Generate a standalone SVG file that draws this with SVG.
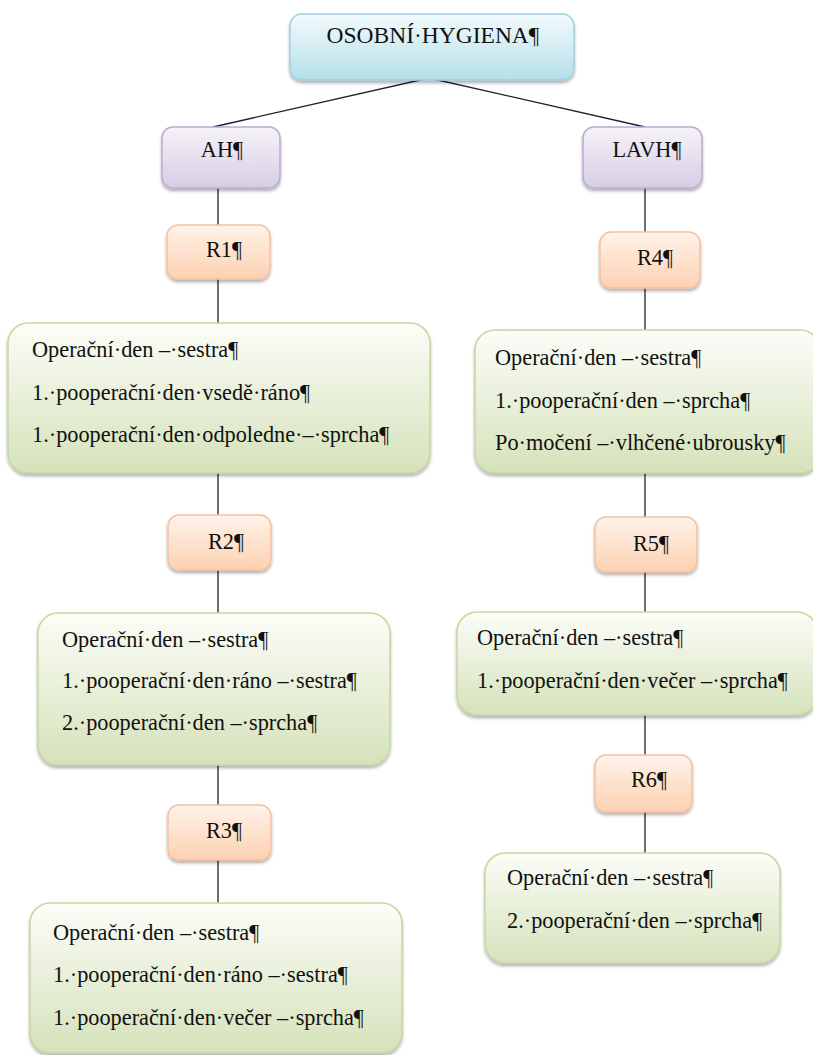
<svg xmlns="http://www.w3.org/2000/svg" width="813" height="1055" viewBox="0 0 813 1055">
  <style>
    .lbl { font-family: 'Liberation Serif', 'Times New Roman', 'DejaVu Serif', serif; font-size: 22.3px; fill: #111; }
    .mid { text-anchor: middle; }
    .title { font-size: 23.5px; }
    .cyan { fill: url(#gCyan); stroke: #9dd1dd; stroke-width: 1.5; filter: url(#shadow); }
    .lilac { fill: url(#gLilac); stroke: #b9acd0; stroke-width: 1.5; filter: url(#shadow); }
    .peach { fill: url(#gPeach); stroke: #f6c19e; stroke-width: 1.5; filter: url(#shadow); }
    .green { fill: url(#gGreen); stroke: #c5d89f; stroke-width: 1.5; filter: url(#shadow); }
    .link { stroke: #222; stroke-width: 1.3; fill: none; }
  </style>
  <defs>
    <linearGradient id="gCyan" x1="0" y1="0" x2="0" y2="1">
      <stop offset="0" stop-color="#f2fbfd"/>
      <stop offset="1" stop-color="#b5dfe9"/>
    </linearGradient>
    <linearGradient id="gLilac" x1="0" y1="0" x2="0" y2="1">
      <stop offset="0" stop-color="#f6f3f9"/>
      <stop offset="1" stop-color="#d7cde5"/>
    </linearGradient>
    <linearGradient id="gPeach" x1="0" y1="0" x2="0" y2="1">
      <stop offset="0" stop-color="#fff3ea"/>
      <stop offset="1" stop-color="#fcd1b1"/>
    </linearGradient>
    <linearGradient id="gGreen" x1="0" y1="0" x2="0" y2="1">
      <stop offset="0" stop-color="#fcfdf8"/>
      <stop offset="1" stop-color="#d5e2bb"/>
    </linearGradient>
    <filter id="shadow" x="-5%" y="-10%" width="110%" height="125%">
      <feDropShadow dx="0" dy="2.5" stdDeviation="1.8" flood-color="#000" flood-opacity="0.3"/>
    </filter>
  </defs>

  <!-- connectors -->
  <g id="connectors">
    <polyline class="link" points="213,127 429,78 645,127"/>
    <line class="link" x1="218" y1="188" x2="218" y2="225"/>
    <line class="link" x1="218" y1="279" x2="218" y2="323"/>
    <line class="link" x1="218" y1="473" x2="218" y2="515"/>
    <line class="link" x1="218" y1="570" x2="218" y2="613"/>
    <line class="link" x1="218" y1="765" x2="218" y2="805"/>
    <line class="link" x1="218" y1="860" x2="218" y2="903"/>
    <line class="link" x1="645" y1="188" x2="645" y2="232"/>
    <line class="link" x1="645" y1="288" x2="645" y2="330"/>
    <line class="link" x1="645" y1="473" x2="645" y2="517"/>
    <line class="link" x1="645" y1="572" x2="645" y2="612"/>
    <line class="link" x1="645" y1="715" x2="645" y2="755"/>
    <line class="link" x1="645" y1="812" x2="645" y2="853"/>
  </g>

  <g id="root">
    <rect class="cyan" x="290" y="14" width="284" height="66" rx="12"/>
    <text class="lbl mid title" x="433" y="43">OSOBNÍ·HYGIENA¶</text>
  </g>

  <g id="ah">
    <rect class="lilac" x="162" y="127" width="118" height="61" rx="11"/>
    <text class="lbl mid" x="222" y="157">AH¶</text>
  </g>
  <g id="lavh">
    <rect class="lilac" x="583" y="127" width="119" height="61" rx="11"/>
    <text class="lbl mid" x="647" y="157">LAVH¶</text>
  </g>

  <g id="r1">
    <rect class="peach" x="167" y="225" width="103" height="54" rx="11"/>
    <text class="lbl mid" x="224" y="257">R1¶</text>
  </g>
  <g id="r2">
    <rect class="peach" x="168" y="515" width="103" height="55" rx="11"/>
    <text class="lbl mid" x="226" y="549">R2¶</text>
  </g>
  <g id="r3">
    <rect class="peach" x="168" y="805" width="103" height="55" rx="11"/>
    <text class="lbl mid" x="224" y="838">R3¶</text>
  </g>
  <g id="r4">
    <rect class="peach" x="600" y="232" width="100" height="56" rx="11"/>
    <text class="lbl mid" x="655" y="265">R4¶</text>
  </g>
  <g id="r5">
    <rect class="peach" x="595" y="517" width="102" height="55" rx="11"/>
    <text class="lbl mid" x="651" y="551">R5¶</text>
  </g>
  <g id="r6">
    <rect class="peach" x="595" y="755" width="97" height="57" rx="11"/>
    <text class="lbl mid" x="649" y="787">R6¶</text>
  </g>

  <g id="ah-r1-care">
    <rect class="green" x="8" y="323" width="422" height="150" rx="20"/>
    <text class="lbl" x="32" y="357">Operační·den –·sestra¶</text>
    <text class="lbl" x="32" y="400">1.·pooperační·den·vsedě·ráno¶</text>
    <text class="lbl" x="32" y="442">1.·pooperační·den·odpoledne·–·sprcha¶</text>
  </g>
  <g id="ah-r2-care">
    <rect class="green" x="38" y="613" width="352" height="152" rx="20"/>
    <text class="lbl" x="62" y="647">Operační·den –·sestra¶</text>
    <text class="lbl" x="62" y="688">1.·pooperační·den·ráno –·sestra¶</text>
    <text class="lbl" x="62" y="730">2.·pooperační·den –·sprcha¶</text>
  </g>
  <g id="ah-r3-care">
    <rect class="green" x="30" y="903" width="372" height="150" rx="20"/>
    <text class="lbl" x="53" y="940">Operační·den –·sestra¶</text>
    <text class="lbl" x="53" y="982">1.·pooperační·den·ráno –·sestra¶</text>
    <text class="lbl" x="53" y="1025">1.·pooperační·den·večer –·sprcha¶</text>
  </g>
  <g id="lavh-r4-care">
    <rect class="green" x="475" y="330" width="345" height="143" rx="20"/>
    <text class="lbl" x="495" y="365">Operační·den –·sestra¶</text>
    <text class="lbl" x="495" y="408">1.·pooperační·den –·sprcha¶</text>
    <text class="lbl" x="495" y="450">Po·močení –·vlhčené·ubrousky¶</text>
  </g>
  <g id="lavh-r5-care">
    <rect class="green" x="457" y="612" width="360" height="103" rx="20"/>
    <text class="lbl" x="477" y="645">Operační·den –·sestra¶</text>
    <text class="lbl" x="477" y="688">1.·pooperační·den·večer –·sprcha¶</text>
  </g>
  <g id="lavh-r6-care">
    <rect class="green" x="485" y="853" width="295" height="110" rx="20"/>
    <text class="lbl" x="507" y="885">Operační·den –·sestra¶</text>
    <text class="lbl" x="507" y="928">2.·pooperační·den –·sprcha¶</text>
  </g>
</svg>
